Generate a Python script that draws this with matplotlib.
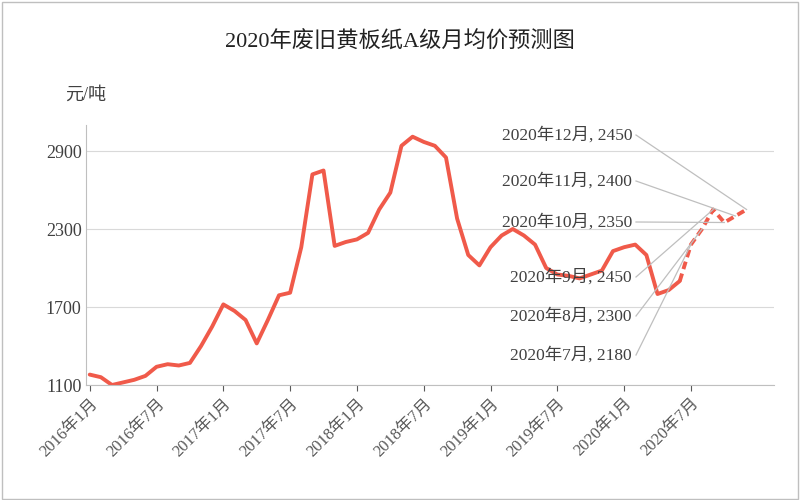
import matplotlib
matplotlib.use('Agg')
import matplotlib.pyplot as plt
from matplotlib.patches import Rectangle

plt.rcParams['font.family'] = ['Liberation Serif', 'Noto Sans CJK SC']

# monthly average price, 2016-01 .. 2020-06 (actual)
actual = [1180, 1160, 1100, 1120, 1140, 1170, 1240, 1260, 1250, 1270, 1400, 1550,
          1720, 1670, 1600, 1420, 1600, 1790, 1810, 2160, 2720, 2750, 2170, 2200,
          2220, 2270, 2450, 2580, 2940, 3010, 2970, 2940, 2850, 2380, 2100, 2020,
          2160, 2250, 2300, 2250, 2180, 2000, 1950, 1940, 1920, 1950, 1980, 2130,
          2160, 2180, 2100, 1800, 1830, 1900]
# forecast 2020-07 .. 2020-12
forecast = [2180, 2300, 2450, 2350, 2400, 2450]
fc_labels = ['2020年7月, 2180', '2020年8月, 2300', '2020年9月, 2450',
             '2020年10月, 2350', '2020年11月, 2400', '2020年12月, 2450']
tick_labels = ['2016年1月', '2016年7月', '2017年1月', '2017年7月', '2018年1月',
               '2018年7月', '2019年1月', '2019年7月', '2020年1月', '2020年7月']

fig = plt.figure(figsize=(8, 5), dpi=100)
ax = fig.add_axes([0.108, 0.23, 0.86, 0.52])
xa = list(range(len(actual)))
xf = list(range(len(actual) - 1, len(actual) + len(forecast)))
ax.plot(xa, actual, color='#f05a4a', lw=2.8, solid_capstyle='round')
ax.plot(xf, [actual[-1]] + forecast, color='#f05a4a', lw=2.8, ls=(0, (2, 1.2)))

ax.set_ylim(1100, 3100)
ax.set_xlim(-0.3, 61.5)
ax.set_yticks([1100, 1700, 2300, 2900])
ax.set_xticks(range(0, 60, 6))
ax.set_xticklabels(tick_labels, rotation=45, ha='right', rotation_mode='anchor')
ax.tick_params(axis='x', labelsize=12, colors='#595959', length=4)
ax.tick_params(axis='y', labelsize=13, colors='#404040', length=0)
ax.grid(axis='y', color='#d9d9d9', lw=0.8)
ax.set_axisbelow(True)
for s in ['top', 'right']:
    ax.spines[s].set_visible(False)
ax.spines['left'].set_color('#bfbfbf')
ax.spines['bottom'].set_color('#bfbfbf')

# annotation labels (text in figure pixels)
text_y = [355, 316, 277, 222, 181, 135]
for i, (lab, v) in enumerate(zip(fc_labels, forecast)):
    xt, yt = 632, 500 - text_y[i]
    xd, yd = ax.transData.transform((len(actual) + i, v))
    fig.add_artist(plt.Line2D([xt + 4, xd], [yt, yd], transform=None,
                              color='#bfbfbf', lw=0.9))
    fig.text(xt / 800, yt / 500, lab, ha='right', va='center', fontsize=12.5,
             color='#404040')

fig.text(0.5, 0.915, '2020年废旧黄板纸A级月均价预测图', ha='center', va='center',
         fontsize=16, color='#222222')
fig.text(0.082, 0.81, '元/吨', ha='left', va='center', fontsize=13, color='#404040')
fig.add_artist(Rectangle((0.003, 0.003), 0.994, 0.994, transform=fig.transFigure,
                         fill=False, ec='#bfbfbf', lw=1))
fig.savefig('out.png', dpi=100, facecolor='white')
